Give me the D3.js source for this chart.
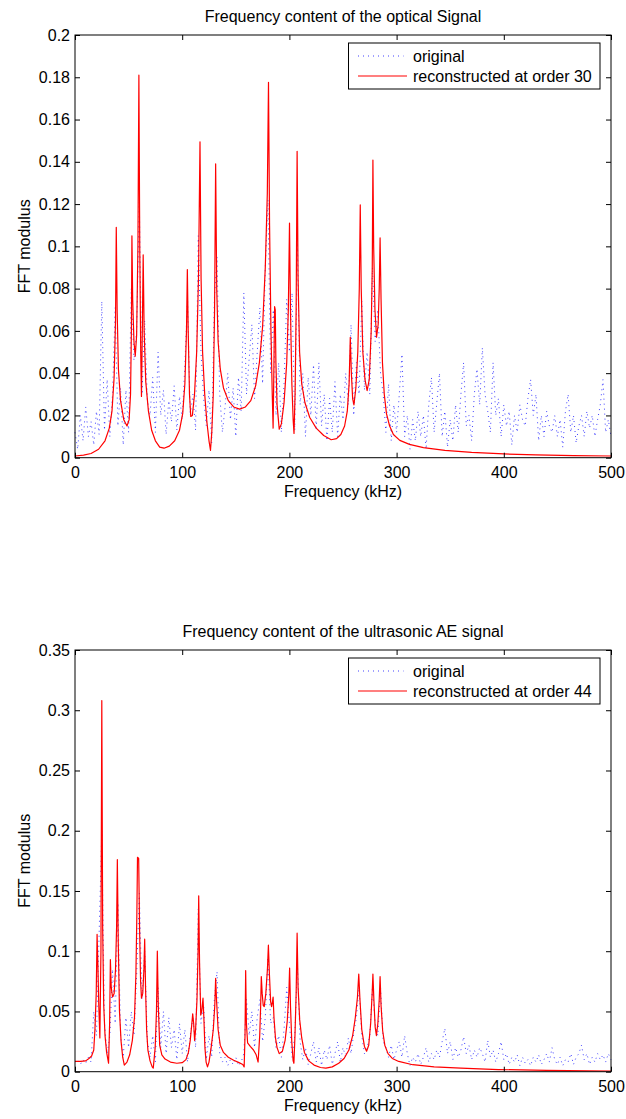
<!DOCTYPE html>
<html>
<head>
<meta charset="utf-8">
<script src="https://cdn.jsdelivr.net/npm/d3@7"></script>
<style>
  body { margin: 0; background: #fff; }
</style>
</head>
<body>
<script>
// spectra sampled every 2.5 kHz, 0..500 kHz
const freqStep = 2.5;
const xTicks = [0, 100, 200, 300, 400, 500];

const opticalTitle = 'Frequency content of the optical Signal';
const opticalYTicks = [0, 0.02, 0.04, 0.06, 0.08, 0.1, 0.12, 0.14, 0.16, 0.18, 0.2];
const opticalLegend = ['original', 'reconstructed at order 30'];

const opticalOriginal = [
  0.012, 0.004, 0.02, 0.008, 0.024, 0.01, 0.017, 0.006, 0.022, 0.011,
  0.074, 0.013, 0.037, 0.01, 0.03, 0.071, 0.015, 0.033, 0.006, 0.032,
  0.012, 0.08, 0.046, 0.06, 0.121, 0.03, 0.065, 0.027, 0.02, 0.038,
  0.012, 0.05, 0.02, 0.032, 0.011, 0.027, 0.017, 0.034, 0.013, 0.029,
  0.018, 0.044, 0.075, 0.02, 0.03, 0.013, 0.105, 0.05, 0.028, 0.015,
  0.032, 0.007, 0.075, 0.095, 0.03, 0.012, 0.024, 0.04, 0.018, 0.033,
  0.01, 0.038, 0.022, 0.078, 0.03, 0.047, 0.063, 0.028, 0.05, 0.071,
  0.035, 0.09, 0.122, 0.04, 0.07, 0.02, 0.045, 0.012, 0.035, 0.075,
  0.05, 0.078, 0.013, 0.103, 0.025, 0.04, 0.01, 0.038, 0.02, 0.044,
  0.013, 0.045, 0.015, 0.03, 0.008, 0.028, 0.012, 0.036, 0.01, 0.03,
  0.018, 0.04, 0.025, 0.063, 0.02, 0.045, 0.03, 0.074, 0.032, 0.05,
  0.03, 0.09, 0.055, 0.07, 0.04, 0.03, 0.012, 0.035, 0.008, 0.025,
  0.012, 0.03, 0.049, 0.01, 0.02, 0.004, 0.018, 0.008, 0.022, 0.01,
  0.02, 0.004, 0.025, 0.038, 0.012, 0.026, 0.04, 0.01, 0.022, 0.005,
  0.018, 0.008, 0.025, 0.012, 0.03, 0.045, 0.015, 0.02, 0.008, 0.03,
  0.042, 0.025, 0.052, 0.03, 0.022, 0.012, 0.045, 0.02, 0.028, 0.01,
  0.025, 0.015, 0.022, 0.006, 0.02, 0.012, 0.025, 0.018, 0.015, 0.028,
  0.037, 0.02, 0.03, 0.008, 0.02, 0.01, 0.022, 0.015, 0.012, 0.02,
  0.01, 0.018, 0.005, 0.022, 0.03, 0.012, 0.02, 0.007, 0.015, 0.02,
  0.01, 0.022, 0.014, 0.02, 0.01, 0.018, 0.025, 0.037, 0.012, 0.018,
  0.01
];

// [frequency kHz, modulus]
const opticalReconstructed = [
  [0, 0.0008], [8, 0.0012], [15, 0.002], [22, 0.004], [28, 0.008], [32, 0.014],
  [34.5, 0.022], [36.5, 0.038], [37.8, 0.065], [38.5, 0.109], [39.3, 0.07], [40.5, 0.042],
  [42.5, 0.027], [45.5, 0.018], [48.5, 0.015], [50.5, 0.018], [51.8, 0.03], [52.6, 0.06],
  [53.1, 0.105], [53.8, 0.075], [55, 0.055], [56.2, 0.048], [57.5, 0.058], [58.7, 0.1],
  [59.6, 0.181], [60.4, 0.1], [61.3, 0.05], [62, 0.029], [62.8, 0.06], [63.6, 0.096],
  [64.5, 0.06], [66, 0.036], [68.5, 0.022], [71.5, 0.013], [75, 0.008], [79, 0.005],
  [83, 0.0045], [88, 0.0055], [93, 0.008], [97.5, 0.013], [100.5, 0.021], [102.5, 0.035],
  [104, 0.06], [104.8, 0.089], [105.6, 0.06], [106.8, 0.03], [108, 0.0195], [109.5, 0.02],
  [111.5, 0.03], [113.5, 0.05], [115.2, 0.085], [116.6, 0.1495], [117.6, 0.085], [119, 0.05],
  [121, 0.03], [123, 0.017], [125, 0.008], [126.4, 0.0035], [127.6, 0.012], [129, 0.03],
  [130.2, 0.07], [131.2, 0.139], [132.2, 0.08], [133.5, 0.055], [135.5, 0.042], [138.5, 0.033],
  [143, 0.027], [148, 0.024], [153.5, 0.023], [159, 0.024], [164, 0.027], [168.5, 0.034],
  [172, 0.045], [175, 0.062], [177.5, 0.09], [179.4, 0.125], [180.5, 0.1776], [181.5, 0.11],
  [182.8, 0.06], [184, 0.03], [184.8, 0.014], [185.6, 0.045], [186.2, 0.0715], [186.8, 0.07],
  [187.4, 0.045], [188.5, 0.025], [190.5, 0.0135], [192.5, 0.016], [195, 0.026], [197.5, 0.045],
  [199, 0.07], [200.1, 0.111], [201, 0.07], [202.3, 0.035], [203.5, 0.018], [204.3, 0.0115],
  [205.3, 0.03], [206.3, 0.07], [207.2, 0.145], [208.1, 0.085], [209.5, 0.05], [211.5, 0.035],
  [214.5, 0.026], [219, 0.019], [225, 0.014], [232, 0.0105], [239, 0.0085], [244, 0.009],
  [248, 0.011], [251.5, 0.015], [254, 0.022], [255.7, 0.035], [256.8, 0.057], [257.8, 0.04],
  [259, 0.028], [260.2, 0.025], [262, 0.033], [263.8, 0.05], [265.2, 0.08], [266.1, 0.1196],
  [267, 0.08], [268.5, 0.05], [270.5, 0.037], [272.5, 0.0317], [274.5, 0.037], [276.3, 0.06],
  [277.3, 0.09], [277.9, 0.1408], [278.6, 0.1], [279.8, 0.07], [281.3, 0.057], [282.8, 0.063],
  [283.8, 0.08], [284.6, 0.104], [285.5, 0.075], [286.8, 0.045], [288.5, 0.03], [290.5, 0.021],
  [293.5, 0.015], [297, 0.011], [303, 0.0082], [312, 0.0063], [325, 0.0048], [345, 0.0035],
  [370, 0.0025], [400, 0.0018], [430, 0.0013], [465, 0.001], [500, 0.0008]
];

const aeTitle = 'Frequency content of the ultrasonic AE signal';
const aeYTicks = [0, 0.05, 0.1, 0.15, 0.2, 0.25, 0.3, 0.35];
const aeLegend = ['original', 'reconstructed at order 44'];

const aeOriginal = [
  0.008, 0.01, 0.006, 0.01, 0.007, 0.012, 0.008, 0.05, 0.03, 0.114,
  0.2, 0.04, 0.015, 0.03, 0.085, 0.04, 0.14, 0.03, 0.012, 0.045,
  0.02, 0.05, 0.03, 0.08, 0.148, 0.06, 0.1, 0.025, 0.012, 0.03,
  0.008, 0.07, 0.02, 0.05, 0.015, 0.045, 0.02, 0.035, 0.01, 0.04,
  0.015, 0.035, 0.008, 0.03, 0.045, 0.02, 0.135, 0.04, 0.055, 0.01,
  0.03, 0.012, 0.06, 0.083, 0.015, 0.008, 0.012, 0.005, 0.01, 0.006,
  0.012, 0.005, 0.008, 0.015, 0.06, 0.03, 0.05, 0.02, 0.045, 0.06,
  0.025, 0.045, 0.095, 0.04, 0.045, 0.02, 0.03, 0.012, 0.035, 0.07,
  0.04, 0.012, 0.03, 0.09, 0.025, 0.01, 0.02, 0.006, 0.015, 0.025,
  0.008, 0.02, 0.005, 0.018, 0.01, 0.022, 0.006, 0.015, 0.025, 0.008,
  0.02, 0.012, 0.028, 0.015, 0.032, 0.045, 0.07, 0.03, 0.015, 0.02,
  0.03, 0.07, 0.04, 0.03, 0.07, 0.025, 0.02, 0.012, 0.022, 0.01,
  0.018, 0.025, 0.012, 0.03, 0.015, 0.005, 0.012, 0.008, 0.015, 0.006,
  0.012, 0.02, 0.008, 0.015, 0.01, 0.018, 0.012, 0.025, 0.036, 0.015,
  0.025, 0.01, 0.02, 0.012, 0.018, 0.029, 0.015, 0.022, 0.01, 0.018,
  0.012, 0.02, 0.015, 0.008, 0.026, 0.012, 0.018, 0.008, 0.015, 0.025,
  0.01, 0.015, 0.006, 0.012, 0.008, 0.014, 0.005, 0.012, 0.007, 0.01,
  0.005, 0.012, 0.008, 0.014, 0.006, 0.01, 0.015, 0.008, 0.02, 0.01,
  0.006, 0.012, 0.005, 0.01, 0.008, 0.015, 0.006, 0.012, 0.015, 0.022,
  0.01, 0.015, 0.006, 0.012, 0.008, 0.015, 0.01, 0.014, 0.008, 0.015,
  0.01
];

const aeReconstructed = [
  [0, 0.0085], [5, 0.0085], [10, 0.009], [13, 0.011], [15.5, 0.013], [17.5, 0.018],
  [18.6, 0.035], [19.8, 0.065], [20.6, 0.114], [21.3, 0.09], [22.2, 0.055], [23.2, 0.028],
  [24.2, 0.1], [25, 0.308], [25.8, 0.12], [26.8, 0.055], [28, 0.03], [29.5, 0.016],
  [31.3, 0.007], [32.3, 0.04], [33, 0.093], [33.8, 0.07], [35, 0.062], [36.5, 0.065],
  [37.8, 0.085], [38.8, 0.12], [39.5, 0.176], [40.3, 0.11], [41.5, 0.05], [43, 0.025],
  [44.5, 0.012], [46, 0.0055], [48.5, 0.008], [51, 0.014], [53.5, 0.026], [55.5, 0.045],
  [56.8, 0.08], [57.7, 0.13], [58.3, 0.178], [59.4, 0.177], [60.2, 0.12], [61.2, 0.075],
  [62, 0.061], [63.2, 0.065], [64.3, 0.085], [65, 0.11], [65.8, 0.07], [66.8, 0.035],
  [68, 0.018], [70, 0.009], [72, 0.004], [73, 0.003], [74.8, 0.02], [76, 0.05],
  [76.8, 0.1], [77.7, 0.055], [79, 0.022], [81, 0.014], [84, 0.0105], [89, 0.008],
  [95, 0.007], [100, 0.0075], [103.5, 0.01], [105.8, 0.016], [107.5, 0.026], [108.8, 0.038],
  [109.8, 0.048], [110.7, 0.04], [111.6, 0.026], [112.5, 0.035], [113.8, 0.06], [114.8, 0.1],
  [115.4, 0.146], [116.2, 0.09], [117.3, 0.047], [118.2, 0.05], [119.4, 0.061], [120.2, 0.045],
  [121.2, 0.02], [122.3, 0.008], [123.6, 0.004], [125, 0.008], [127, 0.02], [129, 0.035],
  [130.4, 0.055], [131.2, 0.0775], [132, 0.06], [133.5, 0.035], [135.5, 0.022], [138.5, 0.016],
  [143, 0.012], [148, 0.0095], [153, 0.0075], [156.5, 0.006], [157.8, 0.004], [158.6, 0.03],
  [159.2, 0.084], [159.9, 0.04], [161, 0.024], [163.5, 0.021], [166.5, 0.018], [169, 0.014],
  [170.8, 0.008], [172.3, 0.03], [173.2, 0.055], [173.8, 0.079], [174.6, 0.065], [175.6, 0.055],
  [176.5, 0.054], [178, 0.065], [179.5, 0.085], [180.4, 0.105], [181.4, 0.08], [182.5, 0.058],
  [183.4, 0.054], [184.2, 0.058], [184.8, 0.062], [185.6, 0.045], [187, 0.028], [188.5, 0.02],
  [190.5, 0.015], [193.5, 0.017], [196, 0.026], [198, 0.042], [199.5, 0.065], [200.2, 0.086],
  [201, 0.055], [202.2, 0.025], [203.5, 0.009], [204.2, 0.007], [205.2, 0.03], [206.3, 0.065],
  [207.2, 0.115], [208.1, 0.07], [209.6, 0.043], [211.5, 0.028], [214, 0.016], [218, 0.009],
  [223, 0.0055], [229, 0.0035], [234, 0.003], [240, 0.004], [246, 0.007], [251, 0.011],
  [255.5, 0.018], [259, 0.03], [261.5, 0.045], [263.5, 0.062], [264.7, 0.081], [265.8, 0.06],
  [267.5, 0.035], [270, 0.021], [272, 0.017], [274, 0.022], [275.8, 0.04], [277.2, 0.065],
  [277.9, 0.081], [278.8, 0.06], [280, 0.037], [281.2, 0.03], [282.5, 0.04], [283.8, 0.06],
  [284.6, 0.079], [285.5, 0.055], [287, 0.034], [289, 0.022], [292, 0.015], [296, 0.011],
  [302, 0.0085], [315, 0.0058], [335, 0.004], [360, 0.003], [395, 0.0018], [440, 0.0011],
  [500, 0.0006]
];

const width = 626;
const height = 1119;
const font = "'Liberation Sans', Arial, Helvetica, sans-serif";

const svg = d3.select('body').append('svg')
  .attr('width', width)
  .attr('height', height)
  .style('font-family', font);

function drawPanel(p) {
  const x = d3.scaleLinear().domain([0, 500]).range([75, 611]);
  const y = d3.scaleLinear().domain([0, d3.max(p.yTicks)]).range([p.bottom, p.top]);
  const g = svg.append('g');

  const line = d3.line()
    .x((d) => x(d[0]))
    .y((d) => y(d[1]));

  g.append('path')
    .datum(p.original.map((v, i) => [i * freqStep, v]))
    .attr('d', line)
    .attr('fill', 'none')
    .attr('stroke', '#0000ff')
    .attr('stroke-opacity', 0.75)
    .attr('stroke-width', 1)
    .attr('stroke-dasharray', '1,4');

  g.append('path')
    .datum(p.reconstructed)
    .attr('d', line)
    .attr('fill', 'none')
    .attr('stroke', '#ff0000')
    .attr('stroke-width', 1.2)
    .attr('stroke-linejoin', 'round');

  // box
  g.append('rect')
    .attr('x', x(0))
    .attr('y', p.top)
    .attr('width', x(500) - x(0))
    .attr('height', p.bottom - p.top)
    .attr('fill', 'none')
    .attr('stroke', '#000')
    .attr('stroke-width', 1);

  const axes = [
    [d3.axisBottom(x).tickValues(xTicks).tickFormat(d3.format('d')), `translate(0,${p.bottom})`],
    [d3.axisTop(x).tickValues(xTicks).tickFormat(''), `translate(0,${p.top})`],
    [d3.axisLeft(y).tickValues(p.yTicks).tickFormat(d3.format('~g')), `translate(${x(0)},0)`],
    [d3.axisRight(y).tickValues(p.yTicks).tickFormat(''), `translate(${x(500)},0)`]
  ];
  axes.forEach(([axis, tr], i) => {
    const a = g.append('g')
      .attr('transform', tr)
      .call(axis.tickSizeInner(-5).tickSizeOuter(0).tickPadding(i === 0 ? 9 : 5));
    a.attr('font-size', 16).attr('font-family', font);
    a.select('.domain').remove();
    a.selectAll('text').attr('fill', '#000');
  });

  g.append('text')
    .attr('x', (x(0) + x(500)) / 2)
    .attr('y', p.top - 13)
    .attr('text-anchor', 'middle')
    .attr('font-size', 16)
    .text(p.title);

  g.append('text')
    .attr('x', (x(0) + x(500)) / 2)
    .attr('y', p.bottom + 39.5)
    .attr('text-anchor', 'middle')
    .attr('font-size', 16)
    .text('Frequency (kHz)');

  g.append('text')
    .attr('transform', `translate(30,${(p.top + p.bottom) / 2}) rotate(-90)`)
    .attr('text-anchor', 'middle')
    .attr('font-size', 16)
    .text('FFT modulus');

  // legend
  const lg = g.append('g').attr('transform', `translate(348.5,${p.top + 8})`);
  lg.append('rect')
    .attr('width', 251.5)
    .attr('height', 46)
    .attr('fill', '#fff')
    .attr('stroke', '#000');
  const styles = [
    { color: '#0000ff', dash: '1,4', w: 1, x2: 55 },
    { color: '#ff0000', dash: null, w: 1.2, x2: 58.5 }
  ];
  p.legend.forEach((label, i) => {
    const yy = 13 + i * 20;
    lg.append('line')
      .attr('x1', 9.5).attr('x2', styles[i].x2)
      .attr('y1', yy).attr('y2', yy)
      .attr('stroke', styles[i].color)
      .attr('stroke-opacity', i === 0 ? 0.75 : 1)
      .attr('stroke-width', styles[i].w)
      .attr('stroke-dasharray', styles[i].dash);
    lg.append('text')
      .attr('x', 64.5)
      .attr('y', yy + 5.5)
      .attr('font-size', 16)
      .text(label);
  });
}

drawPanel({
  title: opticalTitle, top: 35, bottom: 457.7, yTicks: opticalYTicks,
  original: opticalOriginal, reconstructed: opticalReconstructed, legend: opticalLegend
});
drawPanel({
  title: aeTitle, top: 650, bottom: 1071.7, yTicks: aeYTicks,
  original: aeOriginal, reconstructed: aeReconstructed, legend: aeLegend
});
</script>
</body>
</html>
